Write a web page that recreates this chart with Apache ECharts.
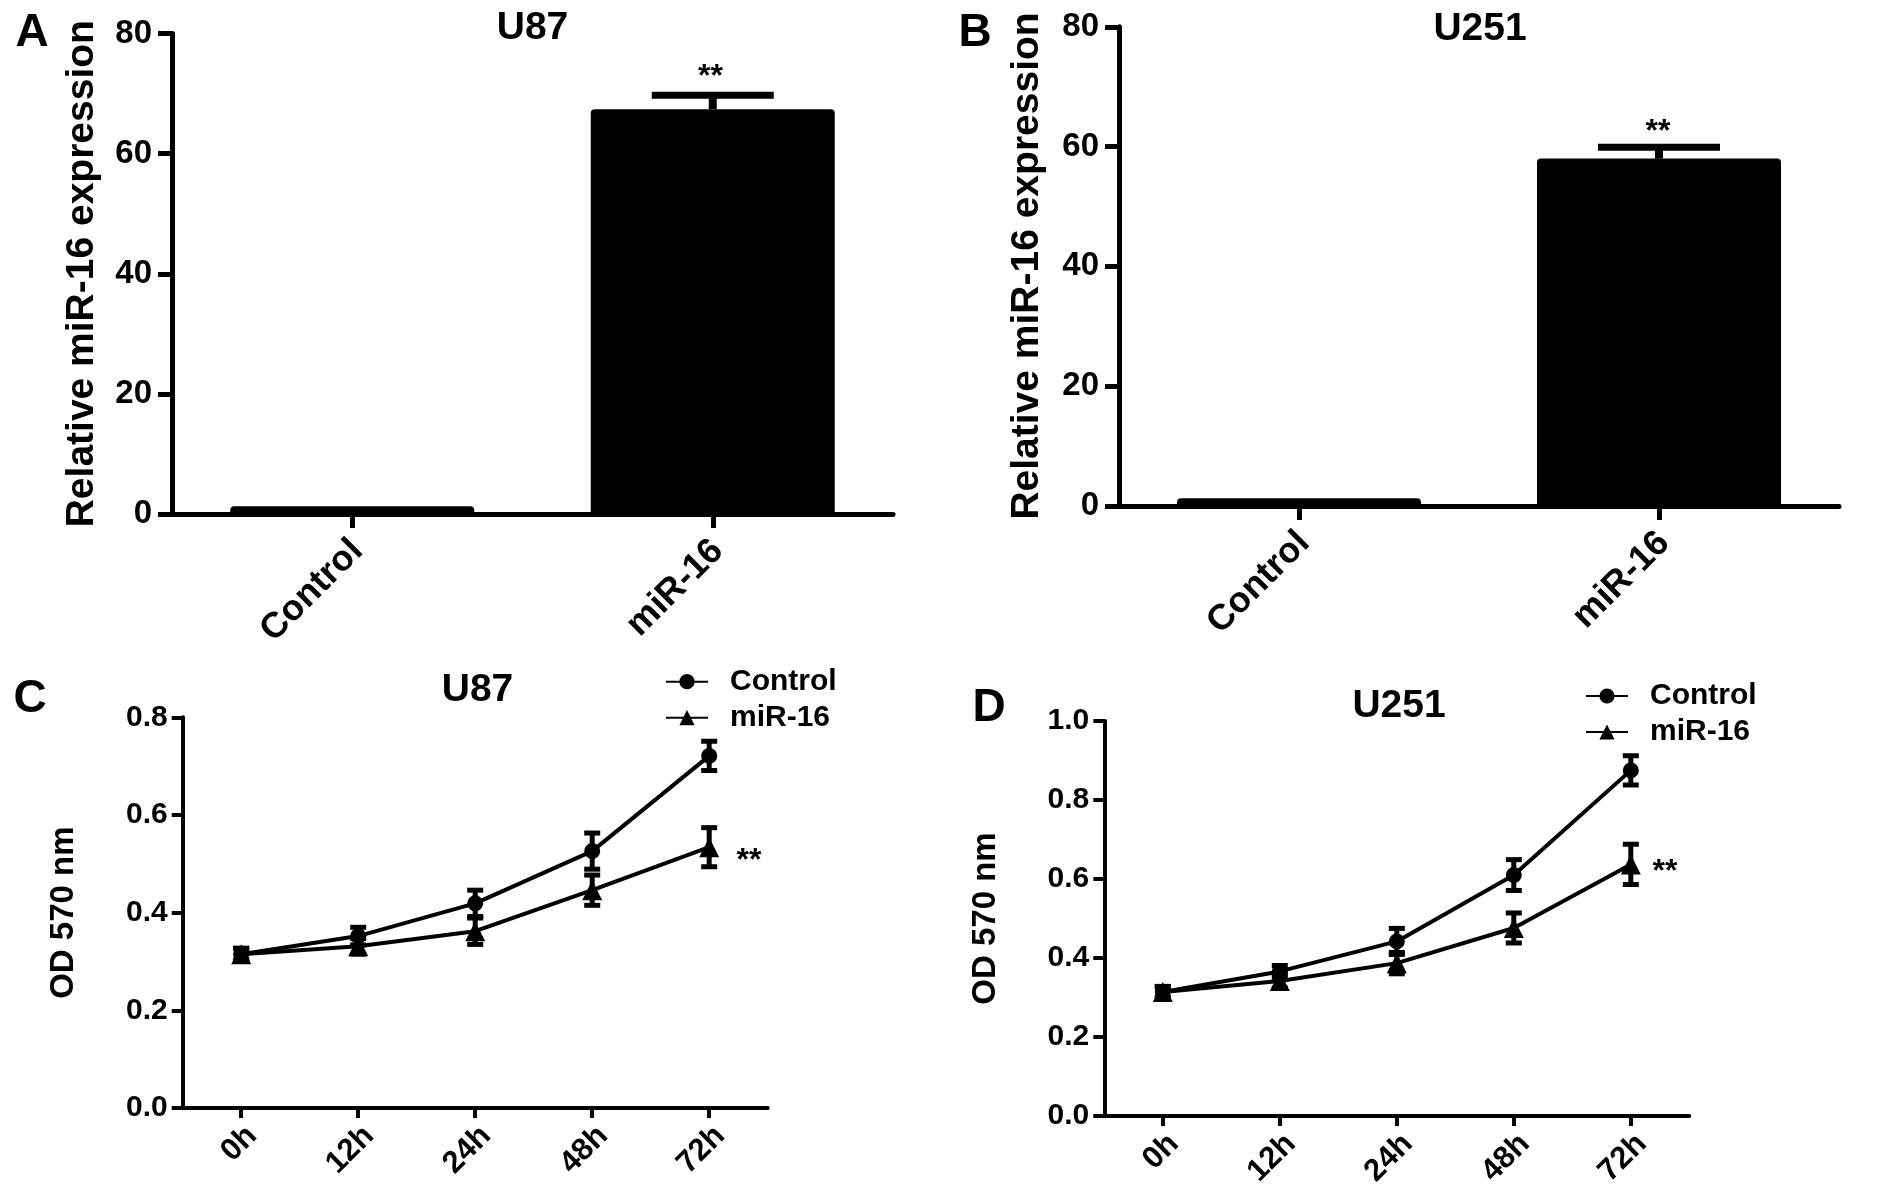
<!DOCTYPE html>
<html>
<head>
<meta charset="utf-8">
<script src="https://cdn.jsdelivr.net/npm/echarts@6/dist/echarts.min.js"></script>
<style>
html,body{margin:0;padding:0;background:#fff;}
#chart{width:1883px;height:1191px;}
</style>
</head>
<body>
<div id="chart"></div>
<script>
// ---------- data ----------
const barCategories = ['Control', 'miR-16'];
const barYTicks = [0, 20, 40, 60, 80];
const u87BarMean = [1.3, 67.4];
const u87BarErr = [0, 2.3];
const u251BarMean = [1.3, 58.0];
const u251BarErr = [0, 1.9];

const timeCategories = ['0h', '12h', '24h', '48h', '72h'];
const u87ODTicks = [0.0, 0.2, 0.4, 0.6, 0.8];
const u251ODTicks = [0.0, 0.2, 0.4, 0.6, 0.8, 1.0];
const u87ControlOD = [0.315, 0.352, 0.419, 0.526, 0.721];
const u87ControlSD = [0.012, 0.018, 0.027, 0.037, 0.030];
const u87MiROD = [0.315, 0.331, 0.362, 0.446, 0.534];
const u87MiRSD = [0.012, 0.016, 0.027, 0.031, 0.040];
const u251ControlOD = [0.314, 0.366, 0.442, 0.610, 0.875];
const u251ControlSD = [0.014, 0.015, 0.033, 0.039, 0.037];
const u251MiROD = [0.314, 0.342, 0.387, 0.476, 0.637];
const u251MiRSD = [0.014, 0.018, 0.027, 0.038, 0.051];

const seriesNames = ['Control', 'miR-16'];
const panelTitles = ['U87', 'U251', 'U87', 'U251'];
const panelLetters = ['A', 'B', 'C', 'D'];
const barYTitle = 'Relative miR-16 expression';
const lineYTitle = 'OD 570 nm';
const sigMark = '**';

// ---------- helpers ----------
const FONT = '"Liberation Sans", Arial, Helvetica, sans-serif';
const BLACK = '#000';

function errData(mean, sd) {
  return mean.map((m, i) => [i, m, sd[i]]);
}
function errRender(capW, stemW, capT, upOnly) {
  return function (params, api) {
    const x = api.value(0), m = api.value(1), e = api.value(2);
    if (!(e > 0)) return null;
    const top = api.coord([x, m + e]);
    const bot = api.coord([x, upOnly ? m : m - e]);
    const children = [
      {type: 'line', shape: {x1: top[0], y1: top[1], x2: bot[0], y2: bot[1]},
       style: {stroke: BLACK, lineWidth: stemW}},
      {type: 'line', shape: {x1: top[0] - capW / 2, y1: top[1], x2: top[0] + capW / 2, y2: top[1]},
       style: {stroke: BLACK, lineWidth: capT}}
    ];
    if (!upOnly) {
      children.push({type: 'line', shape: {x1: bot[0] - capW / 2, y1: bot[1], x2: bot[0] + capW / 2, y2: bot[1]},
        style: {stroke: BLACK, lineWidth: capT}});
    }
    return {type: 'group', children: children};
  };
}
function valueAxis(gridIndex, ticks, fontSize, lineW, tickLen, margin, fixed) {
  return {
    type: 'value', gridIndex: gridIndex,
    min: ticks[0], max: ticks[ticks.length - 1], interval: ticks[1] - ticks[0],
    axisLine: {show: true, lineStyle: {color: BLACK, width: lineW}},
    axisTick: {show: true, length: tickLen, lineStyle: {color: BLACK, width: lineW}},
    axisLabel: {
      color: BLACK, fontSize: fontSize, fontWeight: 'bold', fontFamily: FONT, margin: margin,
      formatter: fixed ? (v) => v.toFixed(1) : (v) => String(v)
    },
    splitLine: {show: false}
  };
}
function catAxis(gridIndex, cats, fontSize, lineW, tickLen, margin, padRight) {
  return {
    type: 'category', gridIndex: gridIndex, data: cats,
    axisLine: {show: true, lineStyle: {color: BLACK, width: lineW}},
    axisTick: {show: true, alignWithLabel: true, length: tickLen, lineStyle: {color: BLACK, width: lineW}},
    axisLabel: {
      color: BLACK, fontSize: fontSize, fontWeight: 'bold', fontFamily: FONT,
      rotate: 45, align: 'right', verticalAlign: 'top', margin: margin, interval: 0,
      padding: [0, padRight, 0, 0]
    },
    splitLine: {show: false}
  };
}
function txt(text, x, y, size, rot) {
  return {
    type: 'text', x: x, y: y, rotation: rot || 0, z: 100,
    style: {text: text, fill: BLACK, fontSize: size, fontWeight: 'bold', fontFamily: FONT,
            align: 'center', verticalAlign: 'middle'}
  };
}
function legendAt(left, top) {
  return {
    data: seriesNames, orient: 'vertical', left: left, top: top, padding: 0,
    itemWidth: 42, itemHeight: 19, itemGap: 6, selectedMode: false,
    textStyle: {color: BLACK, fontSize: 30, fontWeight: 'bold', fontFamily: FONT, padding: [0, 0, 0, 17]}
  };
}
function lineSeries(name, sym, size, x, y, data) {
  return {
    type: 'line', name: name, xAxisIndex: x, yAxisIndex: y, data: data,
    symbol: sym, symbolSize: size, showSymbol: true,
    lineStyle: {color: BLACK, width: 4}, itemStyle: {color: BLACK},
    z: 5
  };
}
function errSeries(x, y, mean, sd, capW, stemW, capT, upOnly) {
  return {
    type: 'custom', xAxisIndex: x, yAxisIndex: y,
    data: errData(mean, sd), renderItem: errRender(capW, stemW, capT, upOnly),
    z: 6, silent: true
  };
}

// ---------- chart ----------
const chart = echarts.init(document.getElementById('chart'), null, {renderer: 'canvas'});
const option = {
  animation: false,
  backgroundColor: '#fff',
  grid: [
    {left: 172, top: 33.5, width: 721, height: 480.5},
    {left: 1119, top: 26.8, width: 720, height: 479.2},
    {left: 182.7, top: 717.3, width: 585, height: 390.7},
    {left: 1104.3, top: 721, width: 585, height: 395}
  ],
  xAxis: [
    catAxis(0, barCategories, 36, 5, 14, 11, 11),
    catAxis(1, barCategories, 36, 5, 14, 11, 11),
    catAxis(2, timeCategories, 31, 4, 10, 12, 0),
    catAxis(3, timeCategories, 31, 4, 10, 12, 0)
  ],
  yAxis: [
    valueAxis(0, barYTicks, 33, 5, 14, 20, false),
    valueAxis(1, barYTicks, 33, 5, 14, 20, false),
    valueAxis(2, u87ODTicks, 30, 4, 11, 15, true),
    valueAxis(3, u251ODTicks, 30, 4, 11, 15, true)
  ],
  legend: [legendAt(665, 666.7), legendAt(1585, 681)],
  series: [
    {type: 'bar', xAxisIndex: 0, yAxisIndex: 0, data: u87BarMean, barWidth: 244,
     itemStyle: {color: BLACK, borderRadius: [4, 4, 0, 0]}, z: 2},
    errSeries(0, 0, u87BarMean, u87BarErr, 122, 8, 7, true),
    {type: 'bar', xAxisIndex: 1, yAxisIndex: 1, data: u251BarMean, barWidth: 244,
     itemStyle: {color: BLACK, borderRadius: [4, 4, 0, 0]}, z: 2},
    errSeries(1, 1, u251BarMean, u251BarErr, 122, 8, 7, true),

    lineSeries(seriesNames[0], 'circle', 16, 2, 2, u87ControlOD),
    lineSeries(seriesNames[1], 'triangle', 20, 2, 2, u87MiROD),
    errSeries(2, 2, u87ControlOD, u87ControlSD, 16, 5, 5, false),
    errSeries(2, 2, u87MiROD, u87MiRSD, 16, 5, 5, false),

    lineSeries(seriesNames[0], 'circle', 16, 3, 3, u251ControlOD),
    lineSeries(seriesNames[1], 'triangle', 20, 3, 3, u251MiROD),
    errSeries(3, 3, u251ControlOD, u251ControlSD, 16, 5, 5, false),
    errSeries(3, 3, u251MiROD, u251MiRSD, 16, 5, 5, false)
  ],
  graphic: [
    txt(panelLetters[0], 32, 33, 46),
    txt(panelLetters[1], 975, 33, 46),
    txt(panelLetters[2], 30, 699, 46),
    txt(panelLetters[3], 989, 708, 46),
    txt(panelTitles[0], 532.5, 28, 39),
    txt(panelTitles[1], 1480, 29, 39),
    txt(panelTitles[2], 477.5, 690, 39),
    txt(panelTitles[3], 1399, 706, 39),
    txt(barYTitle, 82, 273.7, 39, Math.PI / 2),
    txt(barYTitle, 1027, 266, 39, Math.PI / 2),
    txt(lineYTitle, 64, 912.6, 33, Math.PI / 2),
    txt(lineYTitle, 986, 918.5, 33, Math.PI / 2),
    txt(sigMark, 710.5, 77, 32),
    txt(sigMark, 1658, 132, 32),
    txt(sigMark, 749, 861, 32),
    txt(sigMark, 1665, 872, 32)
  ]
};
chart.setOption(option);
</script>
</body>
</html>
